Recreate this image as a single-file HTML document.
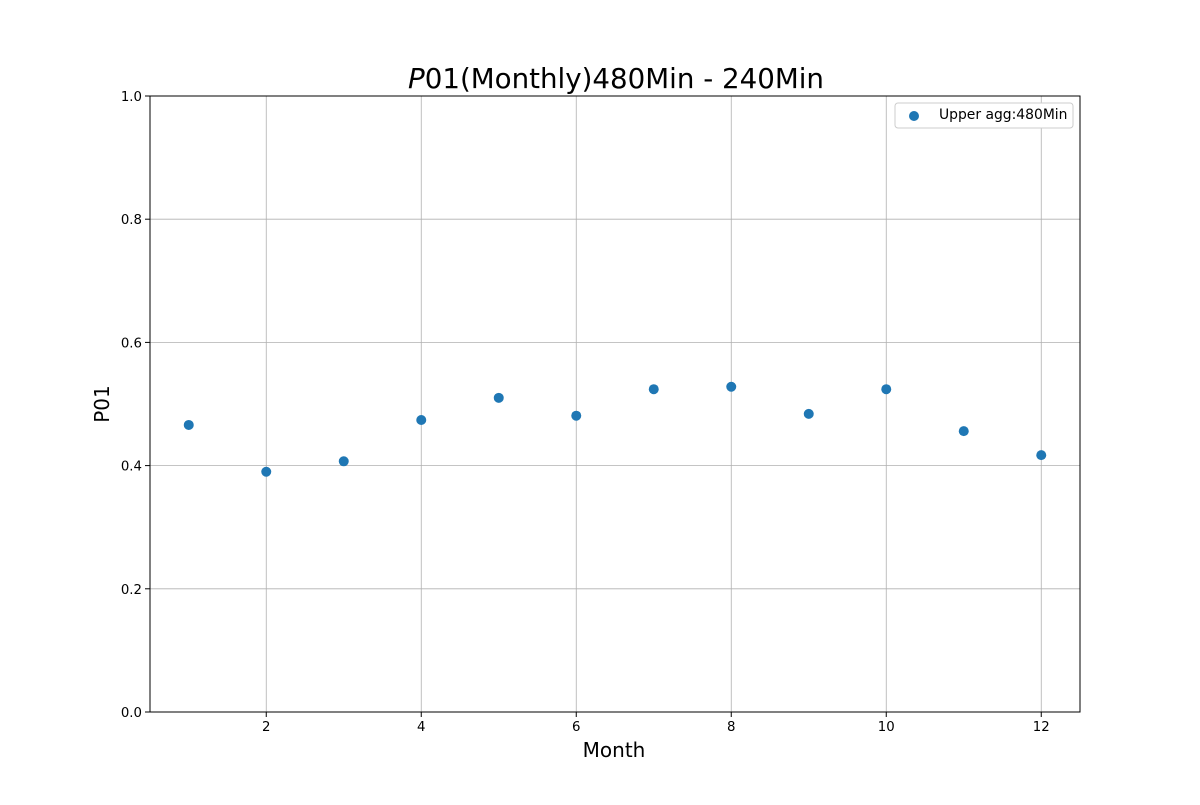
<!DOCTYPE html>
<html><head><meta charset="utf-8"><style>
html,body{margin:0;padding:0;background:#fff;}
svg text{font-family:"DejaVu Sans","Liberation Sans",sans-serif;}
</style></head><body>
<svg id="chart" width="1200" height="800" viewBox="0 0 1200 800" xmlns="http://www.w3.org/2000/svg">
<rect width="1200" height="800" fill="#fff"/>
<text x="616" y="88" font-size="27.7" text-anchor="middle"><tspan font-style="italic">P</tspan>01(Monthly)480Min - 240Min</text>
<g id="grid"></g>
<g id="ticks"></g>
<g id="points"></g>
<rect x="150" y="96" width="930" height="616" fill="none" stroke="#000" stroke-width="1"/>
<text x="614" y="757" font-size="20" text-anchor="middle">Month</text>
<text transform="translate(109,404) rotate(-90)" font-size="20" text-anchor="middle">P01</text>
<g>
<rect x="895" y="103" width="178" height="25" rx="3" fill="#fff" stroke="#ccc"/>
<circle cx="914" cy="116" r="5" fill="#1f77b4"/>
<text x="939" y="119" font-size="13.9">Upper agg:480Min</text>
</g>
</svg>
<script>
const months = [1,2,3,4,5,6,7,8,9,10,11,12];
const values = [0.466,0.390,0.407,0.474,0.510,0.481,0.524,0.528,0.484,0.524,0.456,0.417];
const xTicks = [2,4,6,8,10,12];
const yTicks = [0,0.2,0.4,0.6,0.8,1.0];
const yTickLabels = ["0.0","0.2","0.4","0.6","0.8","1.0"];

const X0=150,X1=1080,Y0=712,Y1=96,XMIN=0.5,XMAX=12.5,YMIN=0,YMAX=1;
function sx(v){return X0+(v-XMIN)/(XMAX-XMIN)*(X1-X0);}
function sy(v){return Y0-(v-YMIN)/(YMAX-YMIN)*(Y0-Y1);}
const NS="http://www.w3.org/2000/svg";
const grid=document.getElementById('grid'),ticks=document.getElementById('ticks'),pts=document.getElementById('points');
function mk(tag,attrs,parent){const e=document.createElementNS(NS,tag);for(const k in attrs)e.setAttribute(k,attrs[k]);parent.appendChild(e);return e;}
xTicks.forEach(t=>{
  const x=sx(t);
  const g=mk('line',{x1:x,x2:x,y1:Y1,y2:Y0,stroke:'#b0b0b0','stroke-width':0.8},grid);
  
  
  const tk=mk('line',{x1:x,x2:x,y1:Y0,y2:Y0+5,stroke:'#000'},ticks);
  
  
  const tx=mk('text',{x:x,y:Y0+19,'font-size':13.3,'text-anchor':'middle'},ticks);
  tx.textContent=String(t);
  
  
});
yTicks.forEach((t,i)=>{
  const y=sy(t);
  const g=mk('line',{x1:X0,x2:X1,y1:y,y2:y,stroke:'#b0b0b0','stroke-width':0.8},grid);
  
  
  const tk=mk('line',{x1:X0-5,x2:X0,y1:y,y2:y,stroke:'#000'},ticks);
  
  
  const tx=mk('text',{x:X0-8,y:y+5,'font-size':13.3,'text-anchor':'end'},ticks);
  tx.textContent=yTickLabels[i];
  
  
});
months.forEach((m,i)=>{
  const c=mk('circle',{cx:sx(m),cy:sy(values[i]),r:5,fill:'#1f77b4'},pts);
  
  
});
</script>
</body></html>
